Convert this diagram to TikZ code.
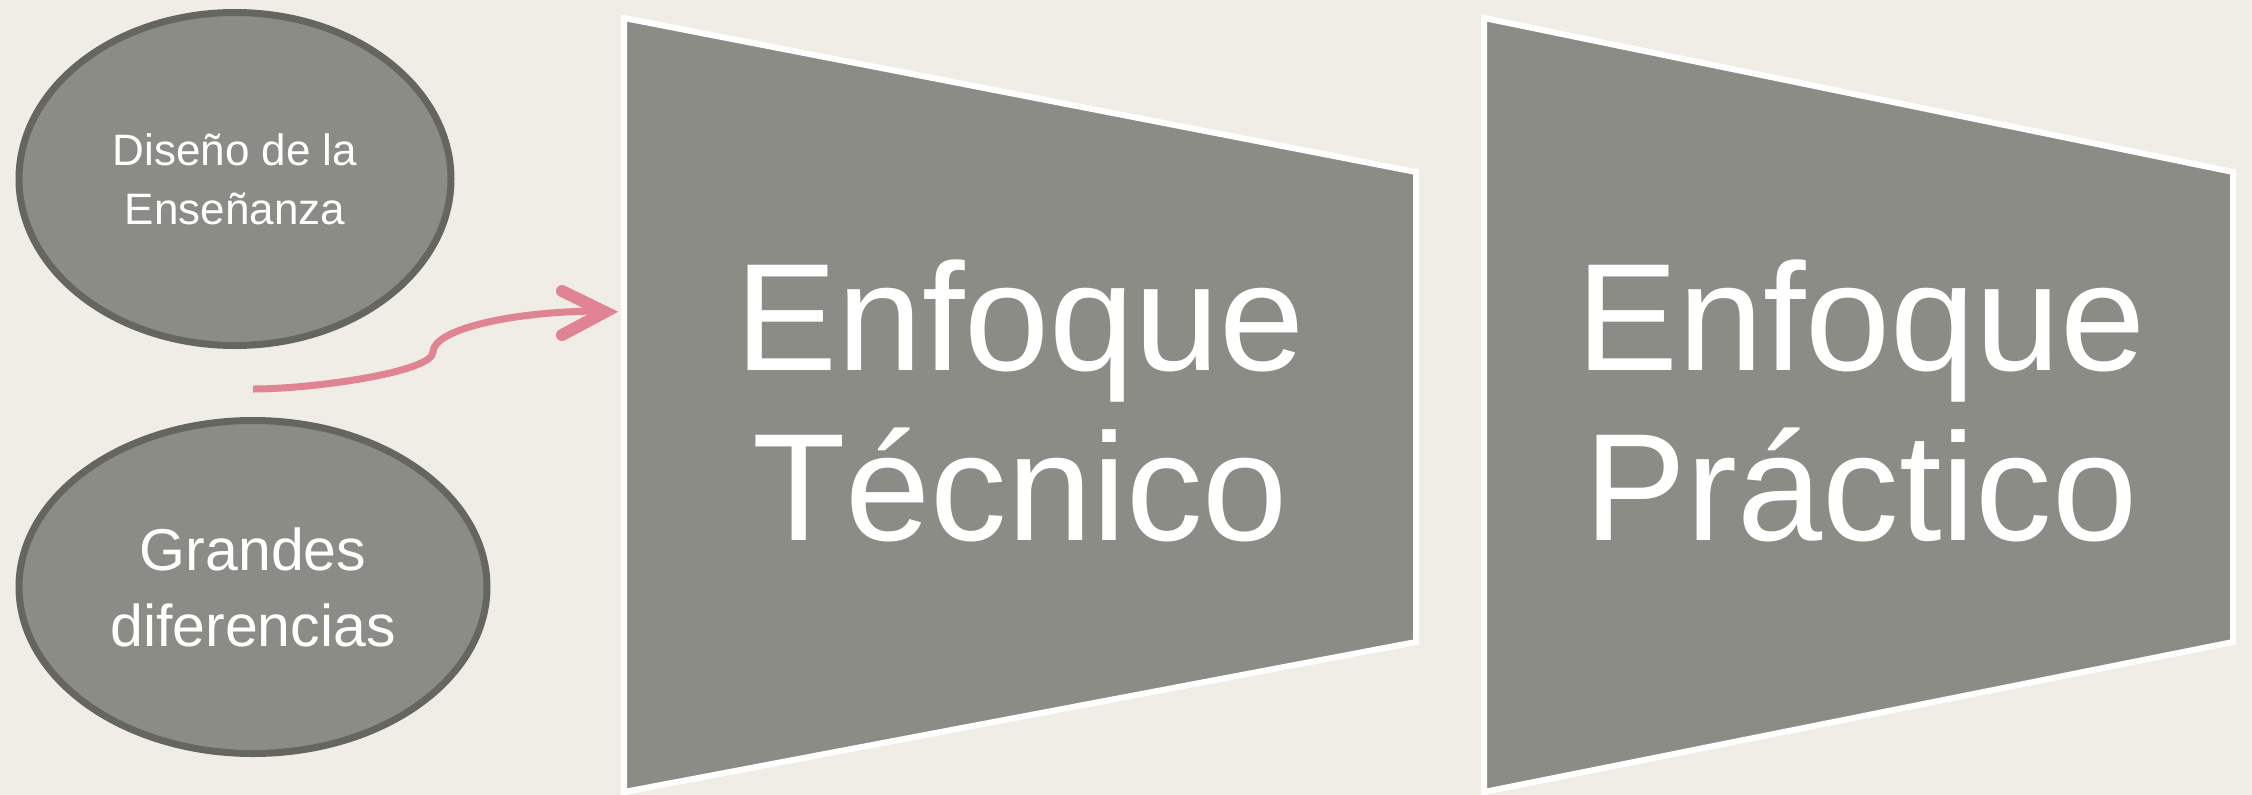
\documentclass[tikz,border=0pt]{standalone}
\usepackage{fontspec}
\setmainfont{Liberation Sans}
\usetikzlibrary{shapes.geometric}
\definecolor{bg}{HTML}{EFEDE5}
\definecolor{shapefill}{HTML}{8C8C86}
\definecolor{ellline}{HTML}{666660}
\definecolor{arrowpink}{HTML}{E08494}
\tikzset{
  ellnode/.style={ellipse, draw=ellline, line width=7, fill=shapefill, text=white, align=center, inner sep=0},
  trapbox/.style={draw=white, line width=6, fill=shapefill, line join=miter},
  bigtext/.style={text=white, align=center, inner sep=0, font=\fontsize{153}{170}\selectfont},
  pinkshaft/.style={draw=arrowpink, line width=7},
  pinkhead/.style={draw=arrowpink, line width=12, line cap=round, line join=miter}
}
\begin{document}
\begin{tikzpicture}[x=1pt,y=-1pt]
\useasboundingbox[fill=bg] (0,0) rectangle (2252,795);

% ellipses
\node[ellnode, minimum width=432, minimum height=333, font=\fontsize{44}{59}\selectfont] (e1) at (235,179) {Diseño de la\\Enseñanza};
\node[ellnode, minimum width=468, minimum height=333, font=\fontsize{59}{76}\selectfont] (e2) at (253,587) {Grandes\\diferencias};

% trapezoids
\draw[trapbox] (624,18) -- (1416,172) -- (1416,642) -- (624,792) -- cycle;
\draw[trapbox] (1484,18) -- (2233,172) -- (2233,642) -- (1484,792) -- cycle;
\node[bigtext] (t1) at (1020,401) {Enfoque\\Técnico};
\node[bigtext] (t2) at (1861,401) {Enfoque\\Práctico};

% arrow
\coordinate (as) at (253,389);
\coordinate (am) at (433,352);
\coordinate (ae) at (602,311);
\coordinate (hv) at (605,312);
\coordinate (hu) at (562,291);
\coordinate (hd) at (562,335);
\draw[pinkshaft] (as) .. controls (313,389) and (433,372) .. (am)
  .. controls (433,330) and (510,311) .. (ae);
\draw[pinkhead] (hu) -- (hv) -- (hd);
\end{tikzpicture}
\end{document}
